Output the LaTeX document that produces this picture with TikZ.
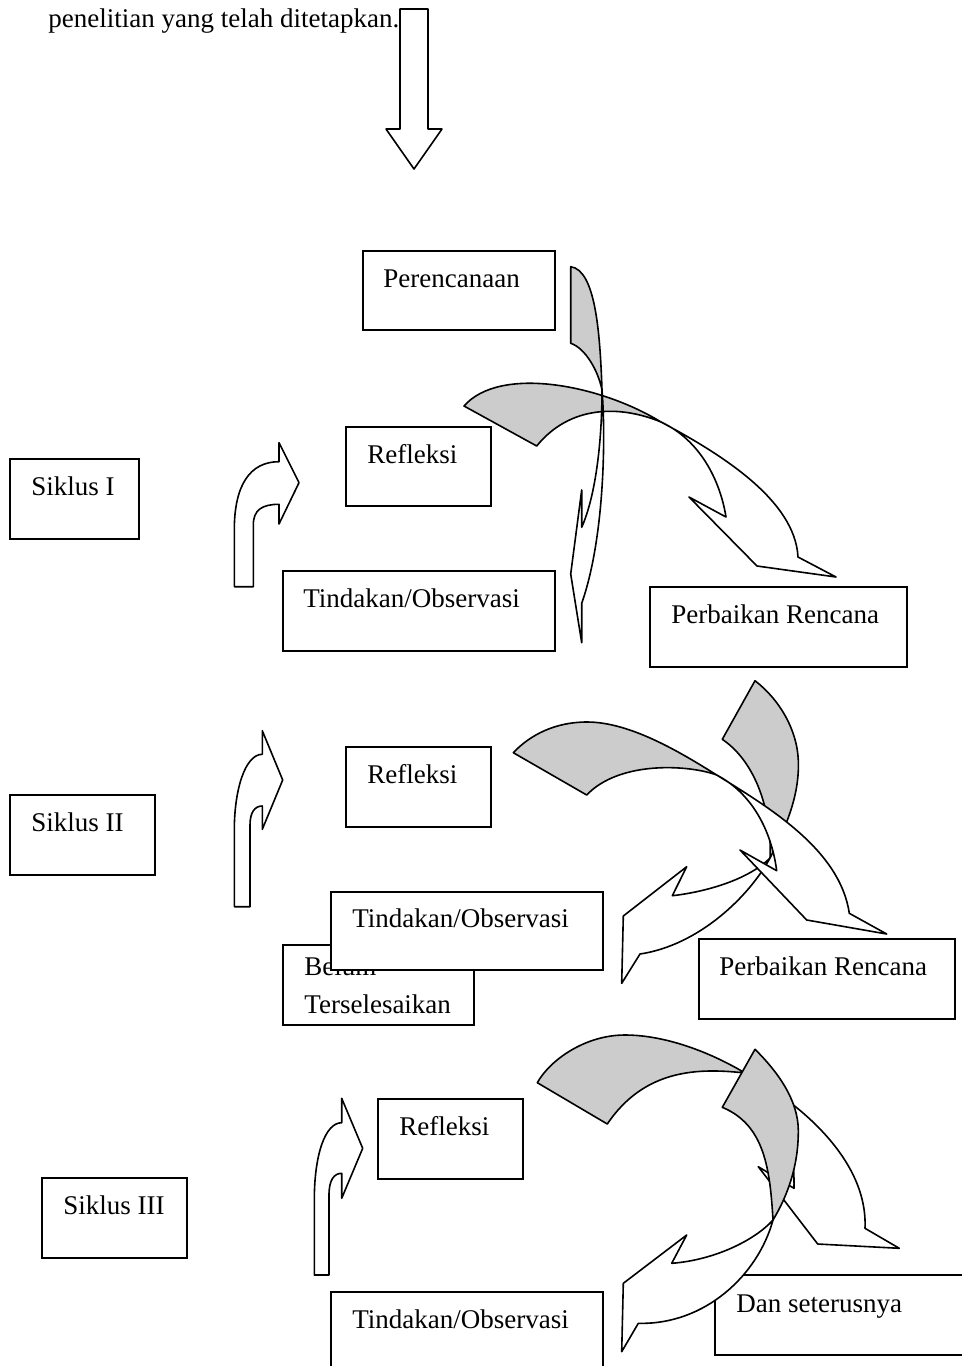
\documentclass[tikz,border=0pt]{standalone}
\usepackage{fontspec}
\setmainfont{Liberation Serif}
\definecolor{shadegrey}{RGB}{204,204,204}
\begin{document}
\begin{tikzpicture}[x=0.5pt,y=-0.5pt,
  box/.style={draw=black, line width=0.8pt, fill=white},
  txt/.style={anchor=base west, inner sep=0pt, font=\fontsize{13.5}{16}\selectfont},
  arr/.style={draw=black, line width=0.8pt, line join=round, fill=white},
  back/.style={arr, fill=shadegrey}]
\useasboundingbox (0,0) rectangle (962,1366);
\clip (0,0) rectangle (962,1366);

% intro text and down arrow
\node[txt] (intro) at (48,27) {penelitian yang telah ditetapkan.};
\draw[arr] (400,9) -- (428,9) -- (428,129) -- (442,129) -- (414,169) -- (386,129) -- (400,129) -- cycle;

% boxes
\draw[box] (363,251) rectangle (555,330);   \node[txt] (plan) at (383,287) {Perencanaan};
\draw[box] (346,427) rectangle (491,506);   \node[txt] (ref1) at (367,463) {Refleksi};
\draw[box] (10,459) rectangle (139,539);    \node[txt] (sik1) at (31,495) {Siklus I};
\draw[box] (283,571) rectangle (555,651);   \node[txt] (tin1) at (303,607) {Tindakan/Observasi};
\draw[box] (650,587) rectangle (907,667);   \node[txt] (per1) at (671,623) {Perbaikan Rencana};
\draw[box] (346,747) rectangle (491,827);   \node[txt] (ref2) at (367,783) {Refleksi};
\draw[box] (10,795) rectangle (155,875);    \node[txt] (sik2) at (31,831) {Siklus II};
\draw[box] (283,945) rectangle (474,1025);  \node[txt] (bel1) at (304,975) {Belum};
                                            \node[txt] (bel2) at (304,1013) {Terselesaikan};
\draw[box] (331,892) rectangle (603,970);   \node[txt] (tin2) at (352,927) {Tindakan/Observasi};
\draw[box] (699,939) rectangle (955,1019);  \node[txt] (per2) at (719,975) {Perbaikan Rencana};
\draw[box] (378,1099) rectangle (523,1179); \node[txt] (ref3) at (399,1135) {Refleksi};
\draw[box] (42,1178) rectangle (187,1258);  \node[txt] (sik3) at (63,1214) {Siklus III};
\draw[box] (331,1292) rectangle (603,1380); \node[txt] (tin3) at (352,1328) {Tindakan/Observasi};
\draw[box] (715,1275) rectangle (975,1355); \node[txt] (dan) at (736,1312) {Dan seterusnya};

% small bent arrows
\draw[arr] (234.3,586.7) -- (234.3,530) .. controls (234.3,485) and (250,461.7) .. (279,461.7)
  -- (279,442.7) -- (299,482.7) -- (279,524) -- (279,504.3)
  .. controls (262,504.3) and (253.3,510) .. (253.3,525) -- (253.3,586.7) -- cycle;
\draw[arr] (234.3,906.7) -- (234.3,830) .. controls (234.3,790) and (245,754.3) .. (262.3,754.3)
  -- (262.3,730.7) -- (282.7,780) -- (262.3,829.3) -- (262.3,806)
  .. controls (255,806) and (250,812) .. (250,825) -- (250,906.7) -- cycle;
\draw[arr] (314.3,1275) -- (314.3,1200) .. controls (314.3,1155) and (325,1122.7) .. (341.7,1122.7)
  -- (341.7,1098.3) -- (362.7,1148.3) -- (341.7,1198.3) -- (341.7,1173.3)
  .. controls (334,1173.3) and (329,1180) .. (329,1195) -- (329,1275) -- cycle;

% ---- cycle 1 ----
\draw[back] (464,406) .. controls (500,365) and (601,385) .. (661,422)
  .. controls (620,405) and (570,405) .. (536.7,446) -- cycle;
\draw[arr] (661,422) .. controls (721,454) and (795,500) .. (798,557)
  -- (836,577) -- (757,566) -- (689,497) -- (726,517)
  .. controls (720,480) and (700,440) .. (661,422) -- cycle;
\draw[back] (570.7,266.7) -- (570.7,343.3) .. controls (585,348) and (598,370) .. (602,390)
  .. controls (600,330) and (595,270) .. (570.7,266.7) -- cycle;
\draw[arr] (602,390) .. controls (606,440) and (604,540) .. (581.7,603.3)
  -- (581.7,642.7) -- (570.7,574) -- (581.7,490) -- (581.7,527.3)
  .. controls (596,495) and (602,440) .. (602,390) -- cycle;

% ---- cycle 2 ----
\draw[back] (755,680.7) .. controls (780,700) and (797,730) .. (798.3,760)
  .. controls (799.6,790) and (790,820) .. (770,858)
  .. controls (772,820) and (760,765) .. (722.3,739.3) -- cycle;
\draw[arr] (770,858) .. controls (750,895) and (700,945) .. (640,954)
  -- (621.7,983.3) -- (623.3,916) -- (686.7,866.7) -- (672.3,895.7)
  .. controls (705,892) and (748,880) .. (770,858) -- cycle;
\draw[back] (513.3,752.7) .. controls (530,735) and (555,722) .. (587,722)
  .. controls (630,722) and (680,752) .. (716.7,775)
  .. controls (690,765) and (620,760) .. (586.7,795) -- cycle;
\draw[arr] (716.7,775) .. controls (770,808) and (840,850) .. (849.3,913.3)
  -- (886.7,934) -- (806.7,920) -- (740,850) -- (776.7,870.7)
  .. controls (772,835) and (755,795) .. (716.7,775) -- cycle;

% ---- cycle 3 ----
\draw[back] (537.3,1082.7) .. controls (550,1060) and (585,1035) .. (625,1035)
  .. controls (665,1035) and (710,1052) .. (745,1073)
  .. controls (700,1068) and (645,1068) .. (607.3,1124) -- cycle;
\draw[arr] (745,1073) .. controls (800,1103) and (868,1160) .. (865,1228.3)
  -- (899.3,1248.3) -- (817.7,1244) -- (758.3,1166.7) -- (794,1188.3)
  .. controls (795,1140) and (780,1095) .. (745,1073) -- cycle;
\draw[back] (755,1049.3) .. controls (778,1072) and (798,1100) .. (798.3,1130)
  .. controls (798.6,1165) and (788,1195) .. (773,1220)
  .. controls (770,1170) and (765,1125) .. (722.3,1107.3) -- cycle;
\draw[arr] (773,1220) .. controls (758,1275) and (705,1325) .. (638.3,1323.3)
  -- (621.7,1351.7) -- (623.3,1283.3) -- (686.7,1235) -- (671.7,1263.3)
  .. controls (715,1260) and (755,1240) .. (773,1220) -- cycle;
\end{tikzpicture}
\end{document}
